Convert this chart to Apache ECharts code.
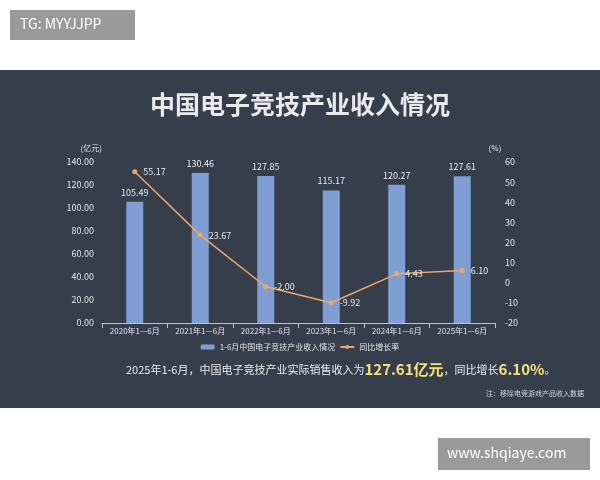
<!DOCTYPE html>
<html><head><meta charset="utf-8">
<script src="https://cdn.jsdelivr.net/npm/echarts@6/dist/echarts.min.js"></script>
<style>html,body{margin:0;background:#fff}#chart{width:600px;height:480px}</style>
</head><body><div id="chart"></div>
<script>
const categories = ['2020年1—6月', '2021年1—6月', '2022年1—6月', '2023年1—6月', '2024年1—6月', '2025年1—6月']
const revenue = [105.49, 130.46, 127.85, 115.17, 120.27, 127.61]
const growth = [55.17, 23.67, -2.00, -9.92, 4.43, 6.10]

const chart = echarts.init(document.getElementById('chart'))
const font = '"Noto Sans CJK SC", sans-serif'
chart.setOption({
	textStyle: { fontFamily: font },
	graphic: [
		{ type: 'rect', z: -10, shape: { x: 0, y: 70, width: 600, height: 338 }, style: { fill: '#373e4b' } },
		{ type: 'rect', shape: { x: 10, y: 10, width: 125, height: 30 }, style: { fill: '#9a9a9a' } },
		{ type: 'text', left: 20, top: 17, style: { text: 'TG: MYYJJPP', fill: '#fff', fontSize: 14, fontFamily: font } },
		{ type: 'rect', shape: { x: 438, y: 438, width: 152, height: 32 }, style: { fill: '#9a9a9a' } },
		{ type: 'text', left: 447, top: 446, style: { text: 'www.shqiaye.com', fill: '#fff', fontSize: 14, fontFamily: font } },
		{ type: 'text', left: 'center', top: 92, style: { text: '中国电子竞技产业收入情况', fill: '#e8eaee', fontSize: 25, fontWeight: 'bold', fontFamily: font } },
		{ type: 'text', left: 126, top: 362, style: {
			text: '{a|2025年1-6月，中国电子竞技产业实际销售收入为}{b|127.61亿元}{a|，同比增长}{b|6.10%}{a|。}',
			rich: { a: { fill: '#e8eaee', fontSize: 11, fontFamily: font }, b: { fill: '#f3e27a', fontSize: 15, fontWeight: 'bold', fontFamily: font } } } },
		{ type: 'text', left: 486, top: 390, style: { text: '注：移除电竞游戏产品收入数据', fill: '#cfd3da', fontSize: 7, fontFamily: font } }
	],
	grid: { left: 102, right: 105, top: 162, bottom: 157 },
	legend: {
		top: 338, itemWidth: 14, itemHeight: 5, itemGap: 4,
		textStyle: { color: '#dfe3ea', fontSize: 8 },
		data: ['1-6月中国电子竞技产业收入情况', '同比增长率']
	},
	xAxis: {
		type: 'category', data: categories,
		axisLine: { lineStyle: { color: '#bfc4cc' } }, axisTick: { show: true, lineStyle: { color: '#bfc4cc' } },
		axisLabel: { color: '#dfe3ea', fontSize: 8, interval: 0, margin: 4 }
	},
	yAxis: [
		{ type: 'value', min: 0, max: 140, interval: 20, name: '(亿元)', nameGap: 10,
		  nameTextStyle: { color: '#dfe3ea', fontSize: 8, align: 'right' },
		  axisLabel: { color: '#dfe3ea', fontSize: 9, formatter: v => v.toFixed(2) }, splitLine: { show: false } },
		{ type: 'value', min: -20, max: 60, interval: 10, name: '(%)', nameGap: 10,
		  nameTextStyle: { color: '#dfe3ea', fontSize: 8 },
		  axisLabel: { color: '#dfe3ea', fontSize: 9, margin: 10 }, splitLine: { show: false } }
	],
	series: [
		{ name: '1-6月中国电子竞技产业收入情况', type: 'bar', data: revenue, barWidth: 17,
		  itemStyle: { color: '#7f9fd4' },
		  label: { show: true, position: 'top', color: '#e8eaee', fontSize: 9, formatter: p => p.value.toFixed(2) } },
		{ name: '同比增长率', type: 'line', yAxisIndex: 1, data: growth, symbol: 'circle', symbolSize: 5,
		  lineStyle: { color: '#eba66a', width: 1.5 }, itemStyle: { color: '#eba66a' },
		  label: { show: true, position: 'right', distance: 6, color: '#e8eaee', fontSize: 9, formatter: p => p.value.toFixed(2) } }
	]
})
</script></body></html>
